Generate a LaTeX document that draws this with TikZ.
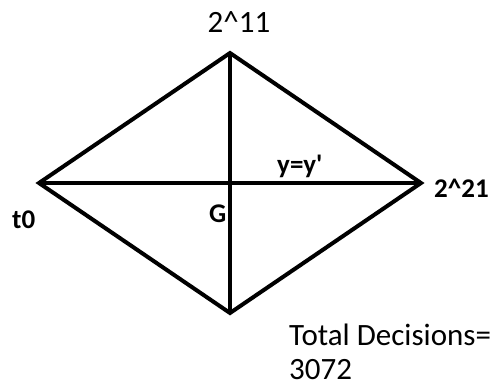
\documentclass[tikz,border=0pt]{standalone}
\usepackage{fontspec}
\setmainfont{Carlito}
\begin{document}
\begin{tikzpicture}[x=1bp,y=-1bp,
  edge/.style={line width=4bp,line join=miter},
  lbl/.style={inner sep=0pt,font=\fontsize{31bp}{34bp}\selectfont},
  blbl/.style={inner sep=0pt,font=\fontsize{27bp}{30bp}\selectfont\bfseries}]
\useasboundingbox (0,0) rectangle (501,387);
\coordinate (T) at (230,53);
\coordinate (L) at (39,183);
\coordinate (R) at (421,183);
\coordinate (B) at (230,313);
\draw[edge] (T) -- (R) -- (B) -- (L) -- cycle;
\draw[edge] (T) -- (B);
\draw[edge] (L) -- (R);
\node[lbl,anchor=base] (n211) at (239,32) {2\^{}11};
\node[blbl,anchor=base west] (t0) at (12,228) {t0};
\node[blbl,anchor=base west] (G) at (209,222) {G};
\node[blbl,anchor=base west] (yy) at (277,173) {y=y\textquotesingle};
\node[blbl,anchor=base west] (n221) at (434,197) {2\^{}21};
\node[lbl,anchor=base west] (td) at (289,345) {Total Decisions=};
\node[lbl,anchor=base west] (n3072) at (289,379) {3072};
\end{tikzpicture}
\end{document}
